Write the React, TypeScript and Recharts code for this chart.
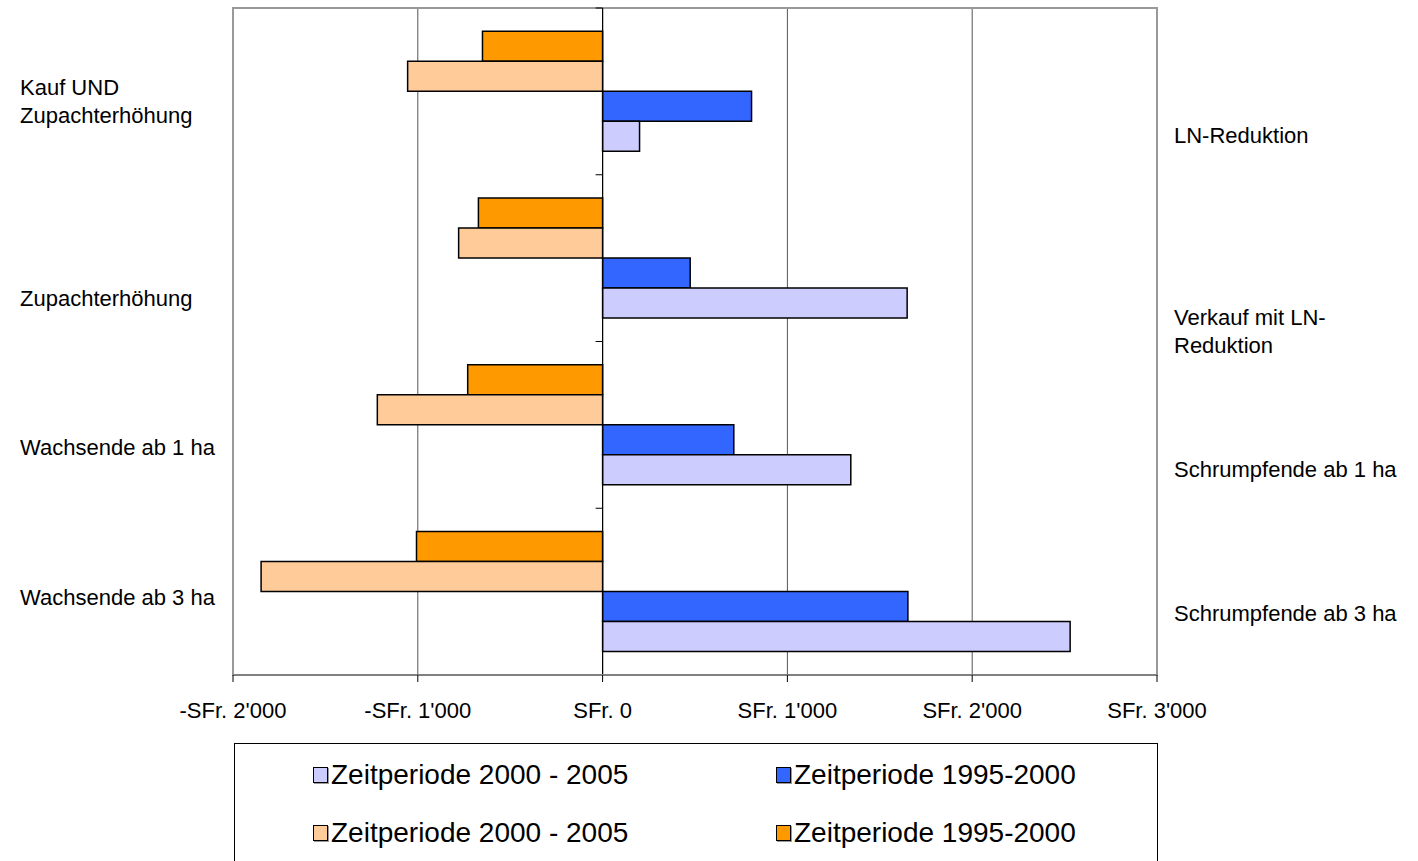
import React from 'react';
import {
  BarChart,
  Bar,
  XAxis,
  YAxis,
  CartesianGrid,
  ReferenceLine,
  ReferenceArea,
} from 'recharts';

// category labels (left = growing farms, right = shrinking farms)
const growLabels = ['Kauf UND\nZupachterhöhung', 'Zupachterhöhung', 'Wachsende ab 1 ha', 'Wachsende ab 3 ha'];
const shrinkLabels = ['LN-Reduktion', 'Verkauf mit LN-\nReduktion', 'Schrumpfende ab 1 ha', 'Schrumpfende ab 3 ha'];

// series values (SFr.)
const grow9500 = [-650, -672, -730, -1007];
const grow0005 = [-1055, -779, -1219, -1848];
const shrink9500 = [806, 474, 710, 1652];
const shrink0005 = [200, 1648, 1343, 2530];

const xTicks = [-2000, -1000, 0, 1000, 2000, 3000];

// label nudges, the original labels are not centred on their bands
const growLabelShift = [10, 40, 22, 6];
const shrinkLabelShift = [44, 73, 44, 22];

const FONT = '"Liberation Sans", Arial, sans-serif';

const data = growLabels.map((g, i) => ({
  grow: g,
  shrink: shrinkLabels[i],
  g9500: grow9500[i],
  g0005: grow0005[i],
  s9500: shrink9500[i],
  s0005: shrink0005[i],
}));

const legendItems = [
  { label: 'Zeitperiode 2000 - 2005', color: '#CCCCFF' },
  { label: 'Zeitperiode 1995-2000', color: '#3366FF' },
  { label: 'Zeitperiode 2000 - 2005', color: '#FFCC99' },
  { label: 'Zeitperiode 1995-2000', color: '#FF9900' },
];

const fmt = (v: number) => {
  const abs = Math.abs(v);
  const s = abs >= 1000 ? `${Math.floor(abs / 1000)}'${String(abs % 1000).padStart(3, '0')}` : String(abs);
  return `${v < 0 ? '-' : ''}SFr. ${s}`;
};

const makeCatTick = (textX: number, shifts: number[]) => (props: any) => {
  const { y, payload, index } = props;
  const lines = String(payload.value).split('\n');
  const lh = 28;
  const top = y + shifts[index] - ((lines.length - 1) * lh) / 2;
  return (
    <text x={textX} y={top} fontFamily={FONT} fontSize={22} fill="#000" textAnchor="start">
      {lines.map((l, i) => (
        <tspan key={i} x={textX} y={top + i * lh} dy="0.35em">
          {l}
        </tspan>
      ))}
    </text>
  );
};

const XTick = (props: any) => {
  const { x, y, payload } = props;
  return (
    <text x={x} y={y + 26} fontFamily={FONT} fontSize={22} fill="#000" textAnchor="middle" dy="0.35em">
      {fmt(payload.value)}
    </text>
  );
};

const ZeroAxis = (props: any) => {
  const { x1, y1, x2, y2 } = props;
  const marks = [0, 1, 2, 3, 4].map((k) => y1 + ((y2 - y1) * k) / 4);
  return (
    <g>
      <line x1={x1} y1={y1} x2={x2} y2={y2} stroke="#000" strokeWidth={1.2} />
      {marks.map((my, i) => (
        <line key={i} x1={x1 - 7} y1={my} x2={x1} y2={my} stroke="#000" strokeWidth={1} />
      ))}
    </g>
  );
};

export default function App() {
  return (
    <div style={{ position: 'absolute', left: 0, top: 0, width: 1418, height: 861, background: '#fff', overflow: 'hidden' }}>
      <BarChart
        width={1418}
        height={861}
        data={data}
        layout="vertical"
        margin={{ top: 8, right: 0, left: 0, bottom: 126 }}
        barCategoryGap="14%"
        barGap={0}
      >
        <CartesianGrid horizontal={false} stroke="#555" strokeWidth={1} />
        <ReferenceArea yAxisId="left" x1={-2000} x2={3000} fill="none" stroke="#999" strokeWidth={2} ifOverflow="visible" />
        <XAxis
          type="number"
          domain={[-2000, 3000]}
          ticks={xTicks}
          interval={0}
          height={60}
          axisLine={{ stroke: '#808080', strokeWidth: 2 }}
          tickLine={{ stroke: '#000' }}
          tickSize={7}
          tick={<XTick />}
        />
        <YAxis
          yAxisId="left"
          type="category"
          dataKey="grow"
          width={233}
          axisLine={false}
          tickLine={false}
          tick={makeCatTick(20, growLabelShift)}
        />
        <YAxis
          yAxisId="right"
          orientation="right"
          type="category"
          dataKey="shrink"
          width={261}
          axisLine={false}
          tickLine={false}
          tick={makeCatTick(1174, shrinkLabelShift)}
        />
        <Bar yAxisId="left" dataKey="g9500" fill="#FF9900" stroke="#000" strokeWidth={1.5} isAnimationActive={false} />
        <Bar yAxisId="left" dataKey="g0005" fill="#FFCC99" stroke="#000" strokeWidth={1.5} isAnimationActive={false} />
        <Bar yAxisId="left" dataKey="s9500" fill="#3366FF" stroke="#000" strokeWidth={1.5} isAnimationActive={false} />
        <Bar yAxisId="left" dataKey="s0005" fill="#CCCCFF" stroke="#000" strokeWidth={1.5} isAnimationActive={false} />
        <ReferenceLine yAxisId="left" x={0} shape={<ZeroAxis />} />
      </BarChart>
      <div
        style={{
          position: 'absolute',
          left: 234,
          top: 743,
          width: 922,
          height: 140,
          border: '1px solid #000',
          background: '#fff',
          fontFamily: FONT,
          fontSize: 28,
        }}
      >
        {legendItems.map((it, i) => (
          <div
            key={i}
            style={{
              position: 'absolute',
              left: i % 2 === 0 ? 78 : 541,
              top: i < 2 ? 14 : 72,
              display: 'flex',
              alignItems: 'center',
              height: 34,
              whiteSpace: 'nowrap',
            }}
          >
            <span
              style={{
                display: 'inline-block',
                width: 13,
                height: 14,
                background: it.color,
                border: '1px solid #000',
                boxShadow: '1px 1px 0 #999',
                marginRight: 3,
              }}
            />
            <span>{it.label}</span>
          </div>
        ))}
      </div>
    </div>
  );
}
